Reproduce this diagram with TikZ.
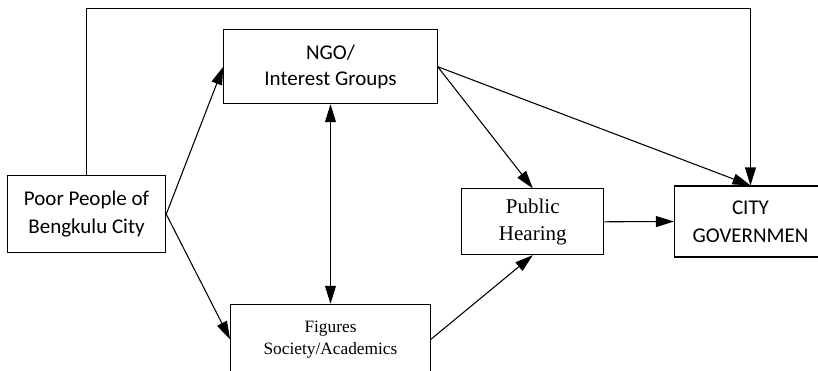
\documentclass[tikz,border=0pt]{standalone}
\usepackage{fontspec}
\usetikzlibrary{arrows.meta}
\newfontfamily\calib{Carlito}
\newfontfamily\tms{Liberation Serif}
\tikzset{caixa/.style={draw,line width=0.8pt,inner sep=0pt,align=center,font=\calib\fontsize{15.75}{21}\selectfont}}
\tikzset{seta/.style={line width=0.8pt,-{Triangle[length=13.5pt,width=8.2pt]}}}

\begin{document}
\begin{tikzpicture}[x=0.75pt,y=-0.75pt]
	\useasboundingbox (0,0) rectangle (818,371);
	\clip (0,0) rectangle (818,371);

	% As caixas
	\node[caixa,minimum width=118.8pt,minimum height=57.75pt] (pobres) at (86.5,214.2) {Poor People of\\Bengkulu City};
	\node[caixa,minimum width=160pt,minimum height=55.5pt,font=\calib\fontsize{15.75}{19.3}\selectfont] (ngo) at (330.5,66.7) {NGO/\\Interest Groups};
	\node[caixa,minimum width=149.8pt,minimum height=52.5pt,font=\tms\fontsize{13}{16.3}\selectfont] (figuras) at (330.5,339.3) {Figures\\Society/Academics};
	\node[caixa,minimum width=106.7pt,minimum height=49.3pt,font=\tms\fontsize{15.75}{20.5}\selectfont] (audiencia) at (532.8,221.8) {Public\\Hearing};
	\node[caixa,minimum width=114pt,minimum height=53.25pt] (cidade) at (750.5,221.5) {CITY\\GOVERNMEN};

	% Linha de cima
	\coordinate (topo) at (420,8.5);
	\draw[seta] (pobres.north) |- (topo) -| (cidade.north);

	% As setas
	\draw[seta] (pobres.east) -- (ngo.west);
	\draw[seta] (pobres.east) -- (figuras.west);
	\draw[seta,{Triangle[length=13.5pt,width=8.2pt]}-{Triangle[length=13.5pt,width=8.2pt]}] (ngo.south) -- (figuras.north);
	\draw[seta] (ngo.east) -- (audiencia.north);
	\draw[seta] (ngo.east) -- (cidade.north);
	\draw[seta] (figuras.east) -- (audiencia.south);
	\draw[seta] (audiencia.east) -- (cidade.west);

\end{tikzpicture}
\end{document}
